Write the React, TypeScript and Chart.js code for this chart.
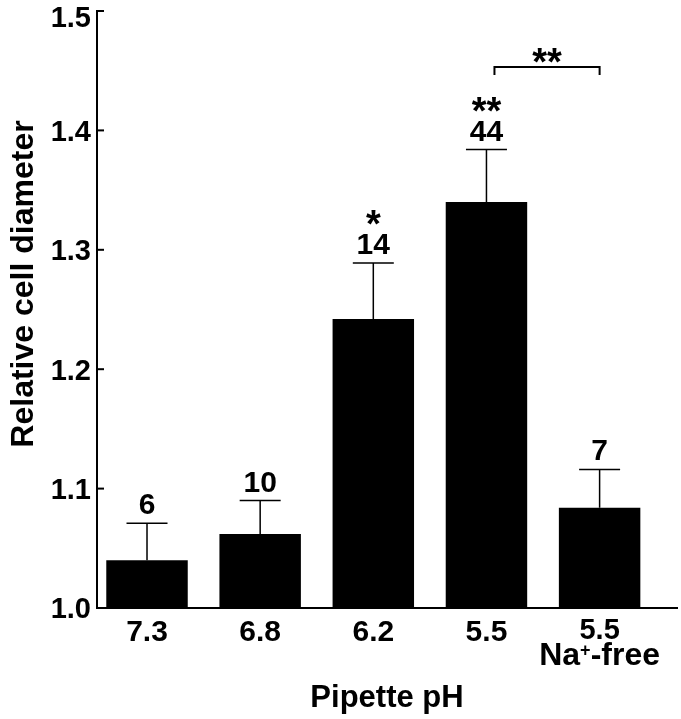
import React, { useEffect, useRef } from "react";
import { Chart, registerables } from "chart.js";

Chart.register(...registerables);

// ---- data ----
const categoryIndex = [0, 1, 2, 3, 4];
const tickLines = [["7.3"], ["6.8"], ["6.2"], ["5.5"], ["5.5", "Na+-free"]];
const means = [1.04, 1.062, 1.242, 1.34, 1.084];
const sem = [0.031, 0.028, 0.047, 0.044, 0.032];
const nCells = ["6", "10", "14", "44", "7"];
const stars = ["", "", "*", "**", ""];
const yTicks = [1.0, 1.1, 1.2, 1.3, 1.4, 1.5];
const bracketFrom = 3;
const bracketTo = 4;
const bracketLevel = 1.453;
const bracketStars = "**";
const xTitle = "Pipette pH";
const yTitle = "Relative cell diameter";

const FONT = '"Liberation Sans", Arial, Helvetica, sans-serif';

const overlay = {
  id: "overlay",
  afterDatasetsDraw(chart: any) {
    const ctx = chart.ctx as CanvasRenderingContext2D;
    const ys = chart.scales.y;
    const { left, right, top, bottom } = chart.chartArea;
    const meta = chart.getDatasetMeta(0);
    ctx.save();
    ctx.fillStyle = "#000";
    ctx.strokeStyle = "#000";

    // y ticks (inward) and labels
    yTicks.forEach((v) => {
      const y = ys.getPixelForValue(v);
      ctx.lineWidth = 2;
      ctx.beginPath();
      ctx.moveTo(left, y);
      ctx.lineTo(left + 7, y);
      ctx.stroke();
      ctx.font = `bold 29px ${FONT}`;
      ctx.textAlign = "right";
      ctx.textBaseline = "alphabetic";
      const cy = Math.max(y, top + 6);
      ctx.fillText(v.toFixed(1), left - 6, cy + 0.358 * 29);
    });

    // error bars, n labels, stars
    meta.data.forEach((bar: any, i: number) => {
      const x = bar.x;
      const yTop = ys.getPixelForValue(means[i] + sem[i]);
      ctx.lineWidth = 1.5;
      ctx.beginPath();
      ctx.moveTo(x, bar.y);
      ctx.lineTo(x, yTop);
      ctx.moveTo(x - 20.5, yTop);
      ctx.lineTo(x + 20.5, yTop);
      ctx.stroke();

      ctx.font = `bold 30px ${FONT}`;
      ctx.textAlign = "center";
      ctx.textBaseline = "alphabetic";
      const nb = yTop - 9;
      ctx.fillText(nCells[i], x, nb);

      if (stars[i]) {
        ctx.font = `bold 38px ${FONT}`;
        const m = ctx.measureText(stars[i]);
        const center = nb - 21.5 - 14.5;
        const base = center + (m.actualBoundingBoxAscent - m.actualBoundingBoxDescent) / 2;
        ctx.fillText(stars[i], x, base);
      }
    });

    // bracket
    const x1 = meta.data[bracketFrom].x + 8;
    const x2 = meta.data[bracketTo].x;
    const by = ys.getPixelForValue(bracketLevel);
    ctx.lineWidth = 2;
    ctx.beginPath();
    ctx.moveTo(x1, by + 8);
    ctx.lineTo(x1, by);
    ctx.lineTo(x2, by);
    ctx.lineTo(x2, by + 8);
    ctx.stroke();
    ctx.font = `bold 38px ${FONT}`;
    {
      const m = ctx.measureText(bracketStars);
      const center = by - 12;
      const base = center + (m.actualBoundingBoxAscent - m.actualBoundingBoxDescent) / 2;
      ctx.textAlign = "center";
      ctx.fillText(bracketStars, (x1 + x2) / 2, base);
    }

    // x tick labels
    tickLines.forEach((lines, i) => {
      const x = meta.data[i].x;
      ctx.textAlign = "center";
      ctx.textBaseline = "alphabetic";
      if (lines.length === 1) {
        ctx.font = `bold 30px ${FONT}`;
        ctx.fillText(lines[0], x, bottom + 33);
      } else {
        ctx.font = `bold 29px ${FONT}`;
        ctx.fillText(lines[0], x, bottom + 31);
        const parts = lines[1].split("+");
        const big = `bold 32px ${FONT}`;
        const small = `bold 18px ${FONT}`;
        ctx.font = big;
        const w0 = ctx.measureText(parts[0]).width;
        const w2 = ctx.measureText(parts[1]).width;
        ctx.font = small;
        const w1 = ctx.measureText("+").width;
        let sx = x - (w0 + w1 + w2) / 2;
        const base = bottom + 57;
        ctx.textAlign = "left";
        ctx.font = big;
        ctx.fillText(parts[0], sx, base);
        sx += w0;
        ctx.font = small;
        ctx.fillText("+", sx, base - 9);
        sx += w1;
        ctx.font = big;
        ctx.fillText(parts[1], sx, base);
      }
    });

    // axis titles
    ctx.font = `bold 31px ${FONT}`;
    ctx.textAlign = "center";
    ctx.textBaseline = "alphabetic";
    ctx.fillText(xTitle, (left + right) / 2, bottom + 99);

    ctx.save();
    ctx.font = `bold 32px ${FONT}`;
    ctx.translate(33, top + 273);
    ctx.rotate(-Math.PI / 2);
    ctx.fillText(yTitle, 0, 0);
    ctx.restore();

    ctx.restore();
  },
};

export default function App() {
  const ref = useRef<HTMLCanvasElement>(null);
  useEffect(() => {
    document.body.style.margin = "0";
    const canvas = ref.current!;
    const chart = new Chart(canvas, {
      type: "bar",
      data: {
        datasets: [
          {
            data: categoryIndex.map((c, i) => ({ x: c, y: means[i] })),
            backgroundColor: "#000",
            borderWidth: 0,
            barPercentage: 0.72,
            categoryPercentage: 1,
          },
        ],
      },
      options: {
        responsive: false,
        animation: false,
        devicePixelRatio: 1,
        layout: { padding: { left: 97, top: 11, right: 4, bottom: 111 } },
        plugins: { legend: { display: false }, tooltip: { enabled: false }, title: { display: false } },
        scales: {
          x: {
            type: "linear",
            min: -0.442,
            max: 4.684,
            offset: false,
            ticks: { display: false, stepSize: 1, includeBounds: false },
            grid: { display: false, drawTicks: false, offset: false },
            border: { display: true, color: "#000", width: 2 },
            afterFit: (s: any) => {
              s.height = 0;
            },
          },
          y: {
            type: "linear",
            min: 1.0,
            max: 1.5,
            ticks: { display: false, stepSize: 0.1 },
            grid: { display: false, drawTicks: false },
            border: { display: true, color: "#000", width: 2 },
            afterFit: (s: any) => {
              s.width = 0;
            },
          },
        },
      },
      plugins: [overlay],
    });
    return () => chart.destroy();
  }, []);
  return (
    <div style={{ width: 681, height: 719, background: "#fff" }}>
      <canvas ref={ref} width={681} height={719} style={{ display: "block" }} />
    </div>
  );
}
